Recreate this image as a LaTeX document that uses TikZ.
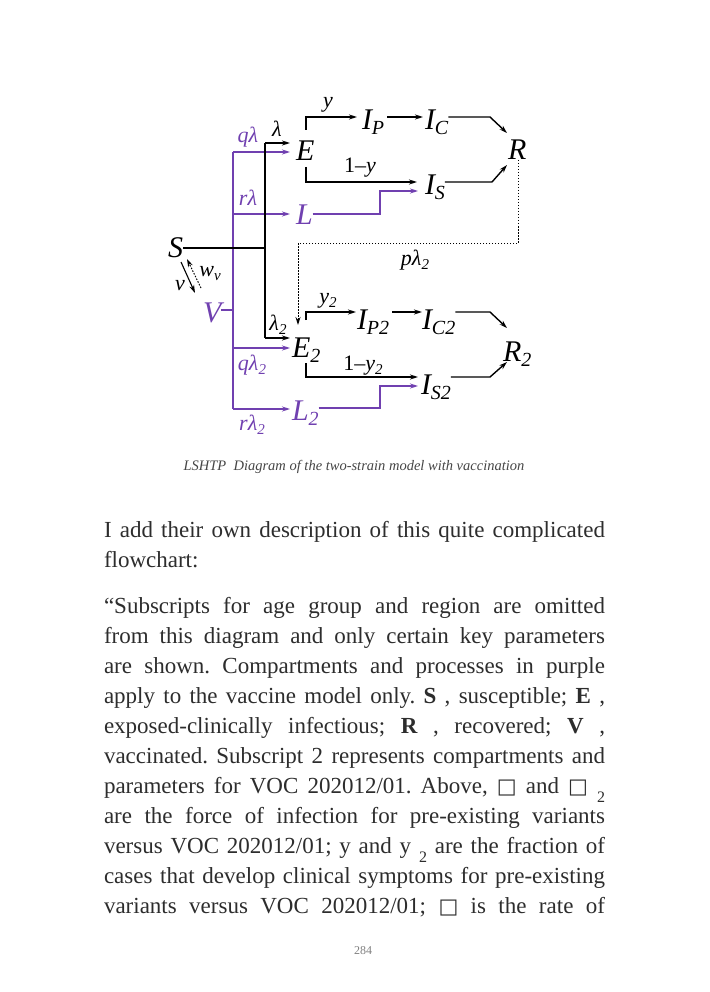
\documentclass[tikz,border=0pt]{standalone}
\usepackage{fontspec}
\setmainfont{Liberation Serif}
\newfontfamily\symfont{DejaVu Sans}
\usetikzlibrary{arrows.meta}
\definecolor{vpurple}{RGB}{112,64,176}
\definecolor{bodygray}{RGB}{45,45,45}
\definecolor{capgray}{RGB}{70,70,70}
\newcommand{\nodefnt}{\fontsize{30}{30}\selectfont\itshape}
\newcommand{\labfnt}{\fontsize{22}{22}\selectfont\itshape}
\newcommand{\nsub}[1]{\raisebox{-5pt}{\fontsize{20}{20}\selectfont #1}}
\newcommand{\lsub}[1]{\raisebox{-4pt}{\fontsize{15}{15}\selectfont #1}}
\newcommand{\lowtwo}{\raisebox{-9pt}{\fontsize{16}{16}\selectfont 2}}
\newcommand{\sqbox}{{\symfont\fontsize{21}{21}\selectfont □}}
\begin{document}
\begin{tikzpicture}[x=1pt,y=-1pt,
  every node/.style={inner sep=0pt,outer sep=0pt},
  blk/.style={line width=1.4pt,black},
  pur/.style={line width=1.2pt,vpurple},
  dotl/.style={line width=1pt,black,dash pattern=on 1.5pt off 1.5pt},
  arr/.style={-{Stealth[length=8pt,width=5pt]}},
  nd/.style={font=\nodefnt,anchor=base west},
  pnd/.style={font=\nodefnt,anchor=base west,text=vpurple},
  lab/.style={font=\labfnt,anchor=base},
  plab/.style={font=\labfnt,anchor=base,text=vpurple}]
\fill[white] (0,0) rectangle (709,992);
\useasboundingbox (0,0) rectangle (709,992);

% ---------- compartments ----------
\node[nd]  (S)   at (168,258) {S};
\node[pnd] (V)   at (203,322) {V};
\node[nd]  (E)   at (296,161) {E};
\node[pnd] (L)   at (296,225) {L};
\node[nd]  (IP)  at (362,130) {I\nsub{P}};
\node[nd]  (IC)  at (425,130) {I\nsub{C}};
\node[nd]  (IS)  at (425,195) {I\nsub{S}};
\node[nd]  (R)   at (508,160) {R};
\node[nd]  (E2)  at (292,357) {E\nsub{2}};
\node[pnd] (L2)  at (292,420) {L\nsub{2}};
\node[nd]  (IP2) at (357,329) {I\nsub{P2}};
\node[nd]  (IC2) at (422,329) {I\nsub{C2}};
\node[nd]  (IS2) at (421,394) {I\nsub{S2}};
\node[nd]  (R2)  at (503,361) {R\nsub{2}};

% ---------- junction points ----------
\coordinate (jS)   at (265,248);
\coordinate (jTop) at (265,143);
\coordinate (jBot) at (265,338);
\coordinate (pTop) at (233,152);
\coordinate (pL)   at (233,214);
\coordinate (pE2)  at (233,348);
\coordinate (pBot) at (233,409);
\coordinate (pV)   at (233,310);
\coordinate (eU)   at (306,117);
\coordinate (eD)   at (306,182);
\coordinate (lK)   at (380,214);
\coordinate (lK2)  at (380,191);
\coordinate (cR)   at (490,117);
\coordinate (sR)   at (492,182);
\coordinate (dA)   at (518,243);
\coordinate (dB)   at (298,243);
\coordinate (e2U)  at (306,312);
\coordinate (e2D)  at (306,377);
\coordinate (c2R)  at (490,312);
\coordinate (s2R)  at (490,377);
\coordinate (mK)   at (380,408);
\coordinate (mK2)  at (380,386);
\coordinate (rIn1) at (507,133);
\coordinate (rIn2) at (507,165);
\coordinate (r2In1) at (507,328);
\coordinate (r2In2) at (507,362);
\coordinate (dTip) at (298,325);

% ---------- purple (vaccine) flows ----------
\draw[pur] (pTop) -- (pBot);
\draw[pur] (V.east |- pV) -- (pV);
\draw[pur,arr,shorten >=6pt] (pTop) -- (pTop -| E.west);
\draw[pur,arr,shorten >=6pt] (pL) -- (pL -| L.west);
\draw[pur,arr,shorten >=2pt] (pE2) -- (pE2 -| E2.west);
\draw[pur,arr,shorten >=2pt] (pBot) -- (pBot -| L2.west);
\draw[pur,arr,shorten >=7pt] (L.east |- pL) -- (lK) -- (lK2) -- (lK2 -| IS.west);
\draw[pur,arr,shorten >=3pt] (L2.east |- mK) -- (mK) -- (mK2) -- (mK2 -| IS2.west);

% ---------- black flows ----------
\draw[blk,line width=1.6pt] (S.east |- jS) -- (jS);
\draw[blk] (jTop) -- (jBot);
\draw[blk,arr,shorten >=6pt] (jTop) -- (jTop -| E.west);
\draw[blk,arr,shorten >=2pt] (jBot) -- (jBot -| E2.west);

\draw[blk,arr,shorten >=5pt] (306,130) -- (eU) -- (eU -| IP.west);
\draw[blk,arr,shorten >=8pt] (306,167) -- (eD) -- (eD -| IS.west);
\draw[blk,arr,shorten <=3pt,shorten >=2pt] (IP.east |- eU) -- (IC.west |- eU);
\draw[blk,arr] (IC.east |- eU) -- (cR) -- (rIn1);
\draw[blk,arr] (IS.east |- eD) -- (sR) -- (rIn2);

\draw[blk,arr,shorten >=1pt] (306,320) -- (e2U) -- (e2U -| IP2.west);
\draw[blk,arr,shorten >=3pt] (306,363) -- (e2D) -- (e2D -| IS2.west);
\draw[blk,arr,shorten <=3pt,shorten >=0pt] (IP2.east |- e2U) -- (IC2.west |- e2U);
\draw[blk,arr] (IC2.east |- e2U) -- (c2R) -- (r2In1);
\draw[blk,arr] (IS2.east |- s2R) -- (s2R) -- (r2In2);

\draw[dotl,arr] (R.south -| dA) -- (dA) -- (dB) -- (dTip);

% S <-> V
\draw[blk,line width=1.1pt,arr] (181,262) -- (195,293);
\draw[dotl,arr] (201,288) -- (187,259);

% ---------- labels ----------
\node[lab]  (lamE)  at (277,137) {λ};
\node[plab] (qlam)  at (248,143) {qλ};
\node[plab] (rlam)  at (248,206) {rλ};
\node[lab]  (ylab)  at (328,108) {y};
\node[lab]  (omy)   at (360,173) {{\upshape 1–}y};
\node[lab]  (plam)  at (415,265) {pλ\lsub{2}};
\node[lab]  (lamE2) at (278,330) {λ\lsub{2}};
\node[plab] (qlam2) at (252,370) {qλ\lsub{2}};
\node[plab] (rlam2) at (252,430) {rλ\lsub{2}};
\node[lab]  (y2lab) at (328,303) {y\lsub{2}};
\node[lab]  (omy2)  at (363,370) {{\upshape 1–}y\lsub{2}};
\node[lab]  (vlab)  at (180,290) {v};
\node[lab]  (wv)    at (210,276) {w\lsub{v}};

% ---------- caption ----------
\node[font=\fontsize{14.5}{14.5}\selectfont\itshape,text=capgray,anchor=base] (cap) at (354,470)
  {LSHTP\ \ Diagram of the two-strain model with vaccination};

% ---------- body text ----------
\node[anchor=base west,text=bodygray] (para1) at (104,537) {\parbox[t]{501pt}{\fontsize{23}{30}\selectfont
  \frenchspacing\tolerance=10000 \hyphenpenalty=10000 \exhyphenpenalty=10000 \parindent=0pt
  I add their own description of this quite complicated\linebreak
  flowchart:}};
\node[anchor=base west,text=bodygray] (para2) at (104,613) {\parbox[t]{501pt}{\fontsize{23}{30}\selectfont
  \frenchspacing\tolerance=10000 \hyphenpenalty=10000 \exhyphenpenalty=10000 \parindent=0pt \parfillskip=0pt
  “Subscripts for age group and region are omitted\linebreak
  from this diagram and only certain key parameters\linebreak
  are shown. Compartments and processes in purple\linebreak
  apply to the vaccine model only. \textbf{S} , susceptible; \textbf{E} ,\linebreak
  exposed-clinically infectious; \textbf{R} , recovered; \textbf{V} ,\linebreak
  vaccinated. Subscript 2 represents compartments and\linebreak
  parameters for VOC 202012/01. Above, \sqbox{} and \sqbox{} \lowtwo\linebreak
  are the force of infection for pre-existing variants\linebreak
  versus VOC 202012/01; y and y \lowtwo{} are the fraction of\linebreak
  cases that develop clinical symptoms for pre-existing\linebreak
  variants versus VOC 202012/01; \sqbox{} is the rate of}};

% ---------- page number ----------
\node[font=\fontsize{12}{12}\selectfont,text=gray,anchor=base] (pg) at (363,954) {284};
\end{tikzpicture}
\end{document}
